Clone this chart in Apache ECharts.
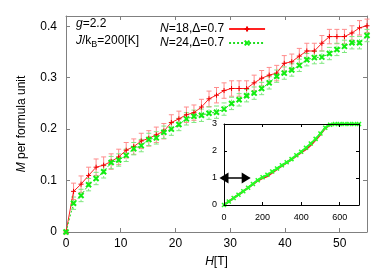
<!DOCTYPE html>
<html>
<head>
<meta charset="utf-8">
<script src="https://cdn.jsdelivr.net/npm/echarts@6/dist/echarts.min.js"></script>
<style>html,body{margin:0;padding:0;background:#fff}#c{width:389px;height:273px}</style>
</head>
<body>
<div id="c"></div>
<script>
// Main panel data: field H [T], magnetization M per formula unit
const H = [0,1.38,2.75,4.13,5.5,6.88,8.25,9.63,11,12.38,13.75,15.13,16.5,17.88,19.25,20.63,22,23.38,24.75,26.13,27.5,28.88,30.25,31.63,33,34.38,35.75,37.13,38.5,39.88,41.25,42.63,44,45.38,46.75,48.13,49.5,50.88,52.25,53.63,55];
const M18 = [0,0.079,0.093,0.110,0.126,0.130,0.137,0.146,0.159,0.166,0.177,0.182,0.189,0.196,0.213,0.220,0.228,0.232,0.243,0.259,0.266,0.275,0.279,0.279,0.279,0.290,0.299,0.305,0.309,0.328,0.331,0.342,0.352,0.352,0.367,0.380,0.380,0.380,0.387,0.397,0.401];
const M24 = [0,0.056,0.071,0.092,0.104,0.117,0.135,0.140,0.149,0.162,0.168,0.180,0.183,0.194,0.200,0.209,0.220,0.225,0.227,0.231,0.233,0.239,0.250,0.257,0.265,0.270,0.279,0.290,0.303,0.309,0.315,0.324,0.335,0.339,0.340,0.347,0.355,0.361,0.368,0.368,0.382];
const E18 = [0,0.016,0.016,0.016,0.016,0.016,0.015,0.015,0.015,0.015,0.015,0.015,0.015,0.015,0.015,0.015,0.015,0.015,0.015,0.015,0.015,0.015,0.015,0.015,0.015,0.015,0.015,0.015,0.015,0.015,0.015,0.015,0.015,0.015,0.015,0.014,0.014,0.014,0.014,0.014,0.013];
const E24 = [0,0.012,0.012,0.012,0.012,0.012,0.012,0.012,0.012,0.012,0.012,0.012,0.012,0.012,0.012,0.012,0.012,0.012,0.012,0.012,0.012,0.012,0.012,0.012,0.012,0.012,0.012,0.012,0.012,0.012,0.012,0.012,0.012,0.012,0.012,0.012,0.012,0.012,0.012,0.012,0.012];
// Inset data: full magnetization curve
const Hin = [0,25,50,75,100,125,150,175,200,225,250,275,300,325,350,375,400,425,450,475,500,525,550,575,600,625,650,675,700];
const Min18 = [0,0.13,0.26,0.38,0.51,0.64,0.77,0.90,1.00,1.07,1.20,1.33,1.45,1.57,1.69,1.82,1.95,2.07,2.22,2.41,2.62,2.84,2.96,3.0,3.0,3.0,3.0,3.0,3.0];
const Min24 = [0,0.13,0.26,0.38,0.51,0.64,0.78,0.92,1.03,1.12,1.24,1.35,1.47,1.58,1.70,1.84,1.97,2.12,2.28,2.45,2.65,2.86,2.97,3.0,3.0,3.0,3.0,3.0,3.0];
const arrowSpan = [0, 115];
const arrowLevel = 1;
const xTicks = [0,10,20,30,40,50];
const yTicks = [0,0.1,0.2,0.3,0.4];
const name18 = 'N=18,Δ=0.7';
const name24 = 'N=24,Δ=0.7';

const FONT = 'Liberation Sans, Arial, sans-serif';
const chart = echarts.init(document.getElementById('c'));

function errSeries(name, M, E, color, dashed) {
  return {
    type: 'custom', name: name + '_err', xAxisIndex: 0, yAxisIndex: 0, silent: true, z: 2,
    data: H.map((h, i) => [h, M[i], E[i]]),
    renderItem: function (params, api) {
      const x = api.value(0), y = api.value(1), e = api.value(2);
      if (!e) return null;
      const lo = api.coord([x, y - e]), hi = api.coord([x, y + e]);
      const st = {stroke: color, lineWidth: 1, lineDash: dashed ? [2, 2] : null};
      return {type: 'group', children: [
        {type: 'line', shape: {x1: lo[0], y1: lo[1], x2: hi[0], y2: hi[1]}, style: st},
        {type: 'line', shape: {x1: lo[0] - 2.5, y1: lo[1], x2: lo[0] + 2.5, y2: lo[1]}, style: {stroke: color, lineWidth: 1}},
        {type: 'line', shape: {x1: hi[0] - 2.5, y1: hi[1], x2: hi[0] + 2.5, y2: hi[1]}, style: {stroke: color, lineWidth: 1}}
      ]};
    }
  };
}

const frame = '#808080';
function mainAxis(pos, showLabel, isX) {
  const o = {
    gridIndex: 0, type: 'value', position: pos,
    min: 0, max: isX ? 55 : 0.42, interval: isX ? 10 : 0.1,
    axisLine: {show: true, onZero: false, lineStyle: {color: frame, width: 1}},
    axisTick: {show: true, inside: true, length: 4, lineStyle: {color: frame}},
    splitLine: {show: false},
    axisLabel: {show: showLabel, showMaxLabel: false, color: '#000', fontSize: 12, fontFamily: FONT,
      margin: isX ? 6 : 9,
      formatter: v => { const t = isX ? xTicks : yTicks; return t.some(q => Math.abs(q - v) < 1e-9) ? String(Math.round(v * 10) / 10) : ''; }}
  };
  return o;
}
function insetAxis(pos, showLabel, isX) {
  return {
    gridIndex: 1, type: 'value', position: pos, z: 10,
    min: 0, max: isX ? 700 : 3, interval: isX ? 200 : 1,
    axisLine: {show: true, onZero: false, lineStyle: {color: '#000', width: 1}},
    axisTick: {show: true, inside: true, length: 3, lineStyle: {color: '#000'}},
    splitLine: {show: false},
    axisLabel: {show: showLabel, showMaxLabel: isX ? false : true, color: '#000', fontSize: 9, fontFamily: FONT, margin: isX ? 8 : 7}
  };
}

const xa0 = mainAxis('bottom', true, true);
xa0.name = '{i|H}[T]';
xa0.nameLocation = 'middle';
xa0.nameGap = 24;
xa0.nameTextStyle = {color: '#000', fontSize: 12, fontFamily: FONT, rich: {i: {fontStyle: 'italic', fontSize: 12, fontFamily: FONT}}};
const ya0 = mainAxis('left', true, false);
ya0.name = '{i|M} per formula unit';
ya0.nameLocation = 'middle';
ya0.nameGap = 38;
ya0.nameTextStyle = {color: '#000', fontSize: 12, fontFamily: FONT, rich: {i: {fontStyle: 'italic', fontSize: 12, fontFamily: FONT}}};

const option = {
  animation: false,
  backgroundColor: '#fff',
  textStyle: {fontFamily: FONT},
  grid: [
    {left: 66, right: 22, top: 16, bottom: 39, show: false},
    {left: 224, top: 124, width: 135, height: 81, show: true, backgroundColor: '#fff', borderWidth: 0, z: 5}
  ],
  xAxis: [xa0, mainAxis('top', false, true), insetAxis('bottom', true, true), insetAxis('top', false, true)],
  yAxis: [ya0, mainAxis('right', false, false), insetAxis('left', true, false), insetAxis('right', false, false)],
  legend: {
    data: [name18, name24], left: 155, top: 18, orient: 'vertical', align: 'right',
    itemWidth: 36, itemHeight: 6, itemGap: 2,
    formatter: n => '{i|N}' + n.slice(1),
    textStyle: {color: '#000', fontSize: 12, fontFamily: FONT,
      rich: {i: {fontStyle: 'italic', fontSize: 12, fontFamily: FONT}}}
  },
  graphic: [
    {type: 'text', left: 76, top: 18, style: {text: '{i|g}=2.2', fill: '#000', font: '12px ' + FONT,
      rich: {i: {fontStyle: 'italic', fontSize: 12, fontFamily: FONT}}}},
    {type: 'text', left: 76, top: 33, style: {text: '{i|J}/k{s|B}=200[K]', fill: '#000', font: '12px ' + FONT,
      rich: {i: {fontStyle: 'italic', fontSize: 12, fontFamily: FONT, lineHeight: 14},
             s: {fontSize: 9, fontFamily: FONT, lineHeight: 14, padding: [7, 0, 0, 0]}}}}
  ],
  series: [
    errSeries(name18, M18, E18, '#ff8c8c', false),
    errSeries(name24, M24, E24, '#7fe87f', true),
    {
      type: 'line', name: name18, xAxisIndex: 0, yAxisIndex: 0, z: 3,
      data: H.map((h, i) => [h, M18[i]]),
      symbol: 'path://M0,5H10M5,0V10', symbolSize: 5, showAllSymbol: true,
      lineStyle: {color: '#f22', width: 1},
      itemStyle: {color: '#f00', borderColor: '#e00', borderWidth: 1}
    },
    {
      type: 'line', name: name24, xAxisIndex: 0, yAxisIndex: 0, z: 4,
      data: H.map((h, i) => [h, M24[i]]),
      symbol: 'path://M0,0L10,10M10,0L0,10', symbolSize: 5, showAllSymbol: true,
      lineStyle: {color: '#2d2', width: 1, type: [2, 2]},
      itemStyle: {color: '#0f0', borderColor: '#1e1', borderWidth: 2}
    },
    {
      type: 'line', name: 'in18', xAxisIndex: 2, yAxisIndex: 2, z: 6,
      data: Hin.map((h, i) => [h, Min18[i]]), symbol: 'none', smooth: 0.2,
      lineStyle: {color: '#e22', width: 2}
    },
    {
      type: 'line', name: 'in24', xAxisIndex: 2, yAxisIndex: 2, z: 7,
      data: Hin.map((h, i) => [h, Min24[i]]),
      symbol: 'path://M0,0L10,10M10,0L0,10', symbolSize: 4, showAllSymbol: true, smooth: 0.2,
      lineStyle: {color: '#3e3', width: 2},
      itemStyle: {color: '#0f0', borderColor: '#2f2', borderWidth: 1.5},
      markLine: {
        silent: true, symbol: ['triangle', 'triangle'], symbolSize: [11, 9],
        label: {show: false},
        lineStyle: {color: '#000', width: 1.5, type: 'solid'},
        data: [[{coord: [arrowSpan[0], arrowLevel]}, {coord: [arrowSpan[1], arrowLevel]}]]
      }
    }
  ]
};
chart.setOption(option);
</script>
</body>
</html>
